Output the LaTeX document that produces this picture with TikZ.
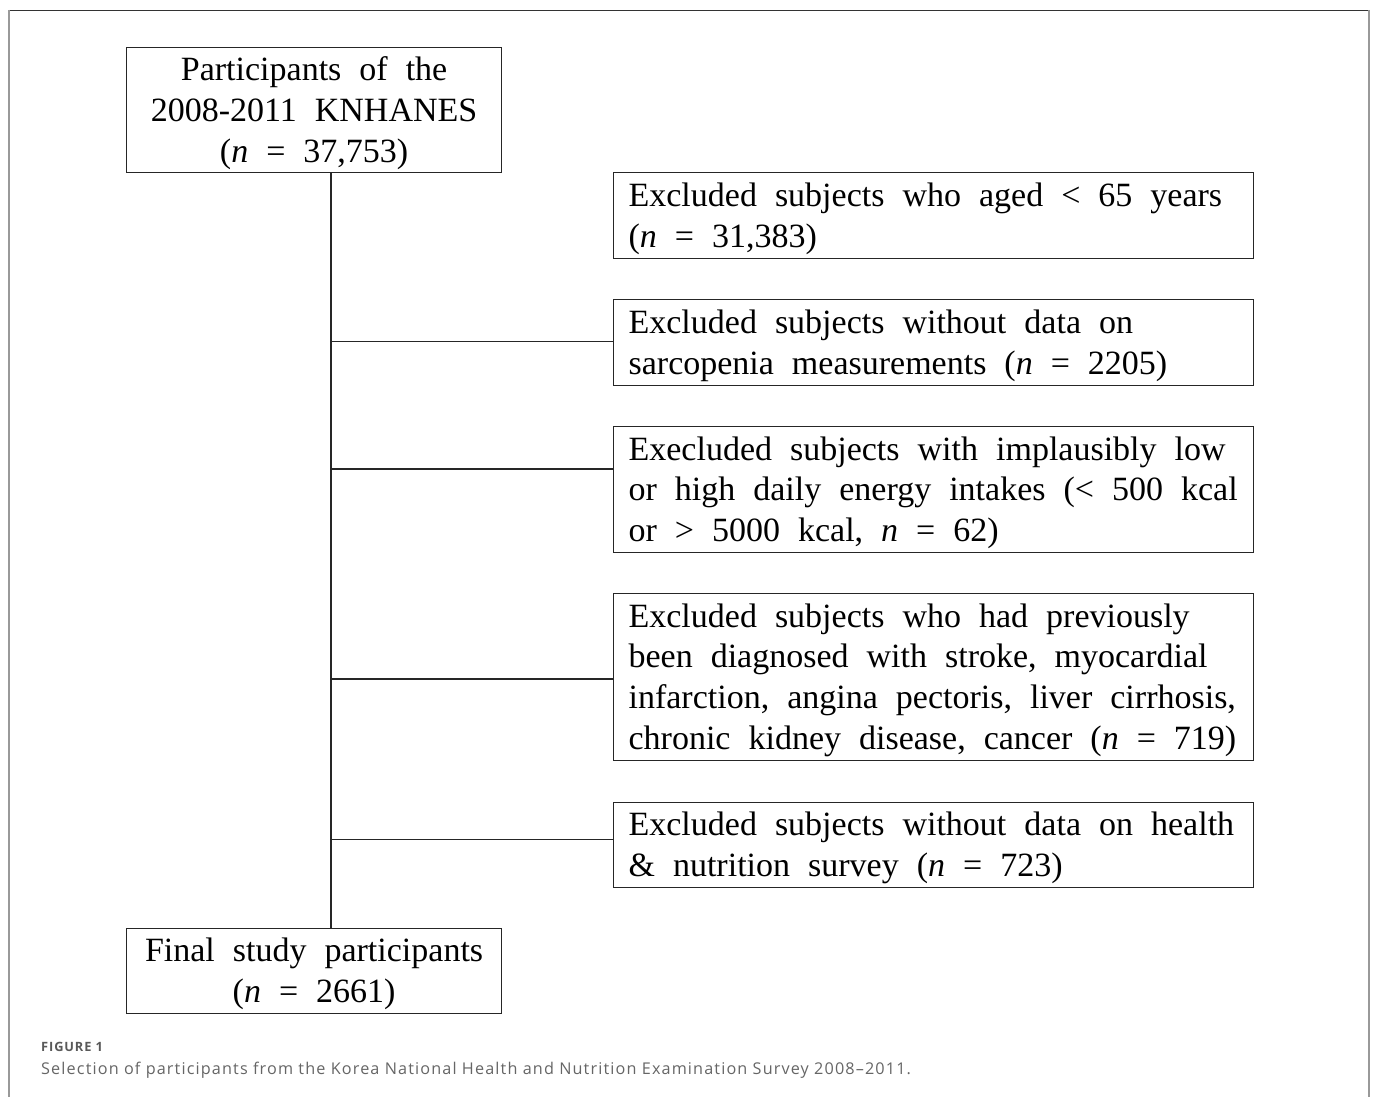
\documentclass[tikz,border=0pt]{standalone}
\usepackage{fontspec}
\setmainfont{Liberation Serif}
\newfontfamily\capfont[LetterSpace=7]{Open Sans}
\newcommand\mystrut{\rule[-9.15pt]{0pt}{40.8pt}}
\newcommand\wl[1]{\mbox{\spaceskip=18pt\relax\xspaceskip=18pt\relax\mystrut #1}}
\begin{document}
\begin{tikzpicture}[x=1pt,y=-1pt,
  boxtxt/.style={font=\fontsize{34}{40.8}\selectfont},
  rbox/.style={draw=black!85, line width=1.2pt, anchor=north west, inner xsep=15pt,
    inner ysep=0pt, text width=610pt, minimum height=#1, align=left, boxtxt},
  lbox/.style={draw=black!85, line width=1.2pt, anchor=north west, inner xsep=15pt,
    inner ysep=0pt, text width=345pt, minimum height=#1, align=center, boxtxt},
  conn/.style={draw=black!85, line width=1.2pt},
  captxt/.style={anchor=base west, inner sep=0pt}
]
\useasboundingbox (0,0) rectangle (1373,1097);
\fill[white] (0,0) rectangle (1373,1097);
% frame
\draw[black!80, line width=1.2pt] (8,10.5) -- (1369.5,10.5);
\draw[black!40, line width=2pt] (8.5,10) -- (8.5,1097);
\draw[black!40, line width=2pt] (1368.5,10) -- (1368.5,1097);

\node[lbox=125pt] (top) at (126,47) {\wl{Participants of the}\\
  \wl{2008-2011 KNHANES}\\
  \wl{(\textit{n} = 37,753)}};

\node[rbox=86pt] (b1) at (613,172) {\wl{Excluded subjects who aged < 65 years}\\
  \wl{(\textit{n} = 31,383)}};

\node[rbox=86pt] (b2) at (613,299) {\wl{Excluded subjects without data on}\\
  \wl{sarcopenia measurements (\textit{n} = 2205)}};

\node[rbox=126pt] (b3) at (613,426) {\wl{Execluded subjects with implausibly low}\\
  \wl{or high daily energy intakes (< 500 kcal}\\
  \wl{or > 5000 kcal, \textit{n} = 62)}};

\node[rbox=167pt] (b4) at (613,593) {\wl{Excluded subjects who had previously}\\
  \wl{been diagnosed with stroke, myocardial}\\
  \wl{infarction, angina pectoris, liver cirrhosis,}\\
  \wl{chronic kidney disease, cancer (\textit{n} = 719)}};

\node[rbox=85pt] (b5) at (613,802) {\wl{Excluded subjects without data on health}\\
  \wl{\& nutrition survey (\textit{n} = 723)}};

\node[lbox=85pt] (fin) at (126,928) {\wl{Final study participants}\\
  \wl{(\textit{n} = 2661)}};

% connectors
\coordinate (sp) at (331,0);
\coordinate (j2) at (331,341.7);
\coordinate (j3) at (331,469);
\coordinate (j4) at (331,679);
\coordinate (j5) at (331,839.7);
\draw[conn] (top.south -| sp) -- (fin.north -| sp);
\draw[conn] (j2) -- (j2 -| b2.west);
\draw[conn] (j3) -- (j3 -| b3.west);
\draw[conn] (j4) -- (j4 -| b4.west);
\draw[conn] (j5) -- (j5 -| b5.west);

% caption
\node[captxt, font=\capfont\bfseries\fontsize{12.8}{15}\selectfont, text=black!65] (figlab) at (41,1051) {FIGURE 1};
\node[captxt, font=\capfont\fontsize{16.2}{19}\selectfont, text=black!60] (cap) at (41,1074) {Selection of participants from the Korea National Health and Nutrition Examination Survey 2008–2011.};
\end{tikzpicture}
\end{document}
